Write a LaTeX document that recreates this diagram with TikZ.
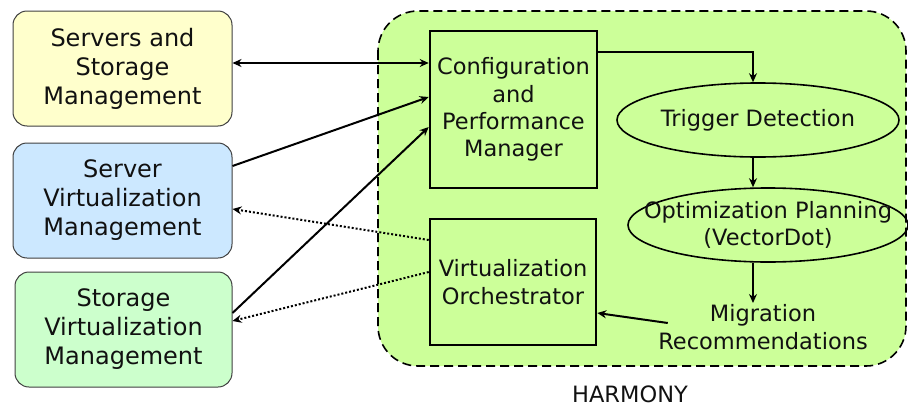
\documentclass[tikz,border=0pt]{standalone}
\usepackage{fontspec}
\setmainfont{DejaVu Sans}
\usetikzlibrary{shapes.geometric,arrows.meta}
\definecolor{ylw}{HTML}{FFFFCC}
\definecolor{blu}{HTML}{CCE8FF}
\definecolor{grn}{HTML}{CCFFCC}
\definecolor{lime}{HTML}{CCFF99}
\definecolor{ink}{HTML}{111111}
\tikzset{
  mgmt/.style={draw=black!75, line width=1pt, rounded corners=14pt, align=center,
    font=\fontsize{24}{29}\selectfont, text=ink},
  blockbox/.style={draw=black, line width=2.6pt, align=center,
    font=\fontsize{22.5}{27.3}\selectfont, text=ink},
  oval/.style={draw=black, line width=1.6pt, ellipse, inner sep=0pt},
  plain/.style={align=center, font=\fontsize{22.5}{27.5}\selectfont, text=ink},
  arr/.style={line width=2pt, -{Stealth[length=9pt,width=8pt]}},
  dblarr/.style={line width=2pt, {Stealth[length=9pt,width=8pt]}-{Stealth[length=9pt,width=8pt]}},
  dotarr/.style={line width=2pt, dotted, -{Stealth[length=9pt,width=8pt]}},
}
\begin{document}
\begin{tikzpicture}[x=1pt,y=-1pt]
\useasboundingbox (0,0) rectangle (908,407);
% HARMONY container
\draw[fill=lime, dash pattern=on 9pt off 5pt, line width=1.6pt, rounded corners=40pt]
  (378,11) rectangle (906,366);
\node[plain, font=\fontsize{22.5}{27}\selectfont, inner sep=1pt] (harmony) at (630,394) {HARMONY};

% management boxes
\node[mgmt, fill=ylw, minimum width=219pt, minimum height=115pt] (ssm) at (122.5,68.5)
  {Servers and\\Storage\\Management};
\node[mgmt, fill=blu, minimum width=219pt, minimum height=115pt] (svm) at (122.5,200.5)
  {Server\\Virtualization\\Management};
\node[mgmt, fill=grn, minimum width=217pt, minimum height=115pt] (stvm) at (123.5,329.5)
  {Storage\\Virtualization\\Management};

% HARMONY components
\node[blockbox, minimum width=167pt, minimum height=157pt] (cpm) at (513.5,109.5)
  {Configuration\\and\\Performance\\Manager};
\node[blockbox, minimum width=166pt, minimum height=126pt] (orch) at (513,282)
  {Virtualization\\Orchestrator};
\node[oval, minimum width=282pt, minimum height=74pt] (trig) at (758,120) {};
\node[plain] (trigtxt) at (trig) {Trigger Detection};
\node[oval, minimum width=280pt, minimum height=74pt] (opt) at (768,225) {};
\node[plain] (opttxt) at (opt) {Optimization Planning\\(VectorDot)};
\node[plain] (mig) at (763,327) {Migration\\Recommendations};

% connectors
\draw[dblarr] ([yshift=5.5pt]ssm.east) -- ([yshift=46.5pt]cpm.west);
\draw[arr] ([yshift=34.5pt]svm.east) -- ([yshift=12.5pt]cpm.west);
\draw[arr] ([yshift=16.5pt]stvm.east) -- ([yshift=-17.5pt]cpm.west);
\draw[dotarr] ([yshift=42pt]orch.west) -- ([yshift=-8.5pt]svm.east);
\draw[dotarr] ([yshift=10pt]orch.west) -- ([yshift=8.5pt]stvm.east);

\draw[arr] ([yshift=57.5pt]cpm.east) -| ([xshift=-5pt]trig.north);
\draw[arr] ([xshift=-5pt]trig.south) -- ([xshift=-5pt]trig.south |- opt.north);
\draw[arr] ([xshift=-5pt]trig.south |- opt.south) -- ([xshift=-5pt,yshift=-2pt]trig.south |- mig.north);
\draw[arr] ([shift={(13pt,4pt)}]mig.west) -- ([yshift=-31pt]orch.east);
\end{tikzpicture}
\end{document}
